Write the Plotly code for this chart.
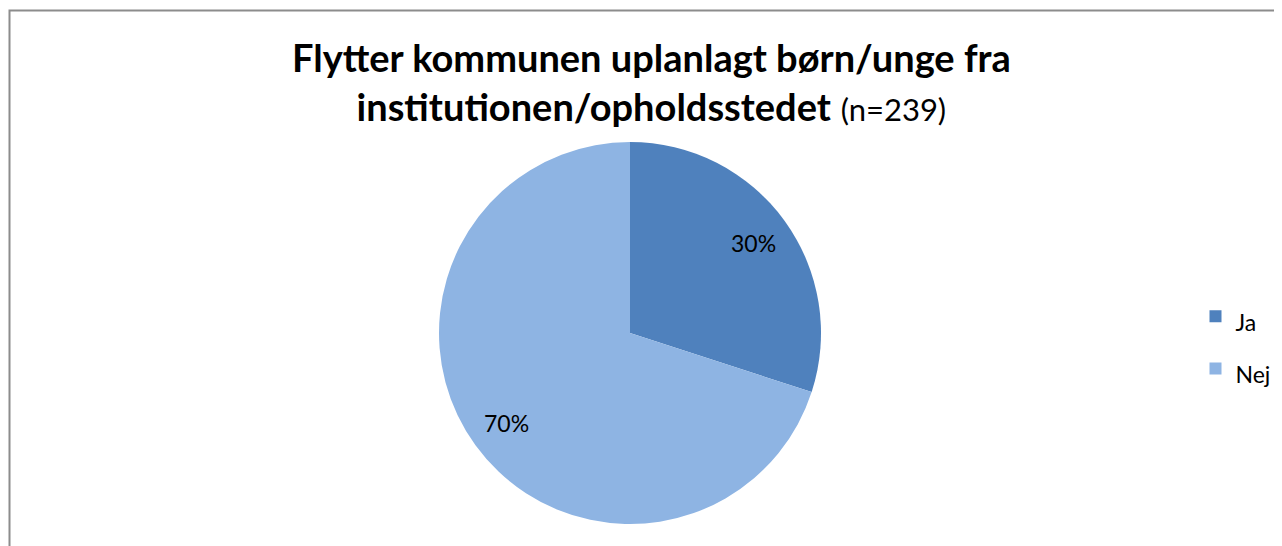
import math
import plotly.graph_objects as go

labels = ["Ja", "Nej"]
values = [30, 70]
colors = ["#4F81BD", "#8EB4E3"]
title_main = "Flytter kommunen uplanlagt børn/unge fra<br>institutionen/opholdsstedet"
title_n = "(n=239)"

# page body adds an 8px margin around the plot
W, H = 1274, 538
FONT = "Lato, Open Sans, sans-serif"

# pie geometry (pixels, figure coordinates)
cx_px, cy_px, R = 622.0, 325.0, 191.0
dom_x = [(cx_px - R) / W, (cx_px + R) / W]
dom_y = [(H - cy_px - R) / H, (H - cy_px + R) / H]

fig = go.Figure()
fig.add_trace(go.Pie(
    labels=["<span style='font-size:23px'>" + l + "</span>" for l in labels],
    values=values,
    marker=dict(colors=colors, line=dict(width=0)),
    sort=False,
    direction="clockwise",
    rotation=0,
    textinfo="none",
    domain=dict(x=dom_x, y=dom_y),
    hovertext=labels,
    hoverinfo="text+percent",
))

# percentage labels placed at 0.8 R along each slice's mid-angle
total = sum(values)
annotations = []
cum = 0.0
for v in values:
    mid = (cum + v / 2) / total * 2 * math.pi
    cum += v
    px = cx_px + 0.8 * R * math.sin(mid)
    py = cy_px - 0.8 * R * math.cos(mid)
    annotations.append(dict(
        text=f"{round(v / total * 100)}%",
        x=px / W, y=(H - py) / H, xref="paper", yref="paper",
        xanchor="center", yanchor="middle", showarrow=False,
        font=dict(family=FONT, size=23, color="#000000"),
    ))

annotations.append(dict(
    text="<b>" + title_main + "</b> <span style='font-size:31px;font-weight:normal'>" + title_n + "</span>",
    x=643.5 / W, y=(H - 73.5) / H, xref="paper", yref="paper",
    xanchor="center", yanchor="middle", showarrow=False,
    font=dict(family=FONT, size=38, color="#000000"),
    align="center",
))

fig.update_layout(
    width=W, height=H,
    margin=dict(l=0, r=0, t=0, b=0),
    paper_bgcolor="white",
    plot_bgcolor="white",
    showlegend=True,
    legend=dict(
        x=1187.5 / W, y=(H - 277) / H, xanchor="left", yanchor="top",
        font=dict(family=FONT, size=38, color="#000000"),
        itemwidth=30,
        bgcolor="rgba(0,0,0,0)",
    ),
    annotations=annotations,
    shapes=[dict(
        type="rect", xref="paper", yref="paper",
        x0=1.5 / W, x1=1.1, y0=-0.1, y1=(H - 2.5) / H,
        line=dict(color="#8C8C8C", width=2),
        fillcolor="rgba(0,0,0,0)",
    )],
)

fig.write_html("out.html")
